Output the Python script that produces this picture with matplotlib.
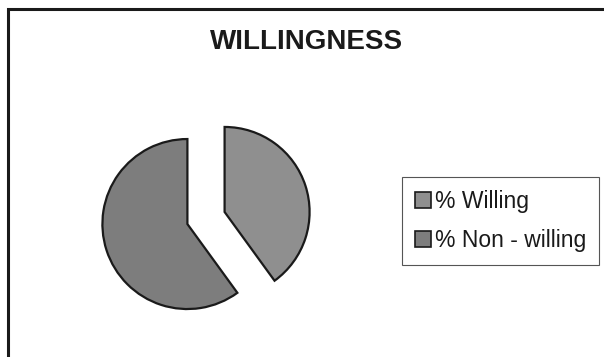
import matplotlib
matplotlib.use('Agg')
import matplotlib.pyplot as plt
from matplotlib.patches import Rectangle, Patch

plt.rcParams['font.family'] = ['Liberation Sans', 'DejaVu Sans']

# survey shares
labels = ['% Willing', '% Non - willing']
shares = [40, 60]
colors = ['#8f8f8f', '#7d7d7d']

W, H = 604, 357
fig = plt.figure(figsize=(W / 100, H / 100), dpi=100)
fig.patch.set_facecolor('white')

# whole-figure axes in pixel units (y up)
ax = fig.add_axes([0, 0, 1, 1])

radius = 85
gap = 0.23 * radius   # explode offset is in data units
wedges, _ = ax.pie(shares, colors=colors, startangle=90, counterclock=False,
                   center=(206, H - 218), radius=radius, explode=[gap, gap],
                   wedgeprops=dict(edgecolor='#1a1a1a', linewidth=1.6))

ax.set_xlim(0, W)
ax.set_ylim(0, H)
ax.set_aspect('equal')
ax.axis('off')

# chart frame, open at the right and bottom edges
ax.add_patch(Rectangle((8, -20), W + 20, H - 9 + 20, fill=False,
                       edgecolor='#1a1a1a', linewidth=2.2))

ax.text(307, H - 42, 'WILLINGNESS', ha='center', va='center',
        fontsize=20, fontweight='bold', color='#1a1a1a')

handles = [Patch(facecolor=c, edgecolor='#1a1a1a', linewidth=1.2) for c in colors]
leg = fig.legend(handles, labels, loc='upper left',
                 bbox_to_anchor=(402 / W, 1 - 177 / H),
                 fontsize=16.5, frameon=True, fancybox=False, framealpha=1,
                 handlelength=0.7, handleheight=0.7, handletextpad=0.2,
                 borderpad=0.55, labelspacing=0.72, borderaxespad=0)
leg.get_frame().set_edgecolor('#555555')
leg.get_frame().set_linewidth(0.8)
leg.get_frame().set_facecolor('white')
for t in leg.get_texts():
    t.set_color('#1a1a1a')

fig.savefig('out.png', dpi=100)
